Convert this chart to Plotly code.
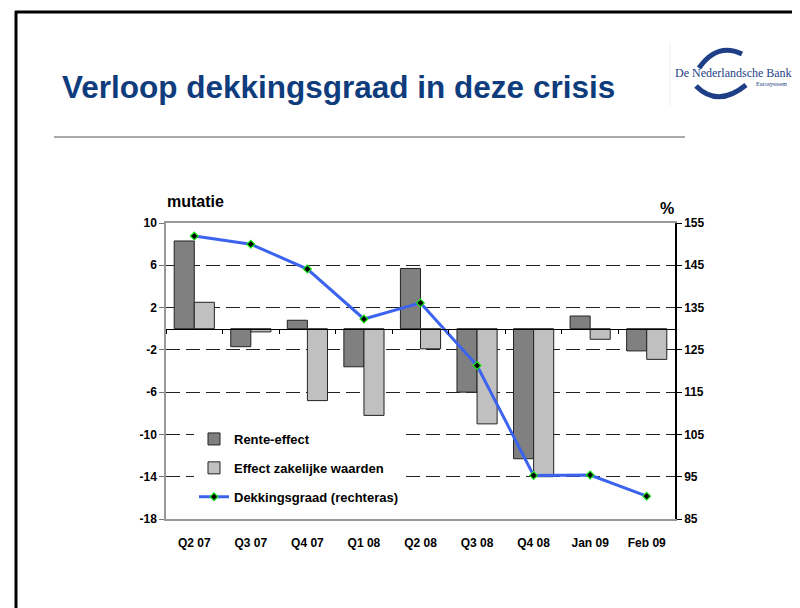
import plotly.graph_objects as go

categories = ["Q2 07", "Q3 07", "Q4 07", "Q1 08", "Q2 08", "Q3 08", "Q4 08", "Jan 09", "Feb 09"]
rente_effect = [8.3, -1.7, 0.8, -3.6, 5.7, -6.0, -12.3, 1.2, -2.1]
zakelijke_waarden = [2.5, -0.3, -6.8, -8.2, -1.9, -9.0, -14.0, -1.0, -2.9]
dekkingsgraad = [151.9, 150.0, 144.1, 132.3, 136.1, 121.3, 95.3, 95.4, 90.4]

left_ticks = [-18, -14, -10, -6, -2, 2, 6, 10]
right_ticks = [85, 95, 105, 115, 125, 135, 145, 155]
left_range = [left_ticks[0], left_ticks[-1]]
right_range = [right_ticks[0], right_ticks[-1]]

OFF = 8  # page body margin
W, H = 800 - OFF, 608 - OFF
PL, PR, PT, PB = 166, 675, 223, 519  # plot area in window pixels


def px(x):
    return (x - PL) / (PR - PL)


def py(y):
    return (PB - y) / (PB - PT)


FONT = "Liberation Sans, Arial, sans-serif"
NAVY = "#0F3C7C"
LOGO = "#1E3F86"

fig = go.Figure()
fig.add_trace(go.Bar(
    x=categories, y=rente_effect, name="Rente-effect",
    marker=dict(color="#808080", line=dict(color="#222222", width=1)),
    legendgroup="a",
))
fig.add_trace(go.Bar(
    x=categories, y=zakelijke_waarden, name="Effect zakelijke waarden",
    marker=dict(color="#C0C0C0", line=dict(color="#222222", width=1)),
    legendgroup="b",
))
fig.add_trace(go.Scatter(
    x=categories, y=dekkingsgraad, name="Dekkingsgraad (rechteras)",
    mode="lines+markers", xaxis="x2", yaxis="y2",
    line=dict(color="#3B63EE", width=3),
    marker=dict(symbol="diamond", size=6, color="#000000", line=dict(color="#19E619", width=1.2)),
    legendgroup="c",
))

fig.update_layout(
    width=W, height=H,
    margin=dict(l=PL - OFF, r=800 - PR, t=PT - OFF, b=608 - PB, pad=0),
    paper_bgcolor="white", plot_bgcolor="white",
    barmode="group", bargap=0.29, bargroupgap=0,
    font=dict(family=FONT, size=12, color="#000000"),
    showlegend=True,
    legend=dict(
        x=px(194), y=py(424), xanchor="left", yanchor="top",
        bgcolor="white", borderwidth=0,
        font=dict(family=FONT, size=13, weight="bold"),
        traceorder="grouped", tracegroupgap=9,
    ),
    xaxis=dict(
        type="category", range=[-0.5, len(categories) - 0.5],
        showline=True, linecolor="#999999", linewidth=1.5, mirror=True,
        ticks="", showgrid=False, zeroline=False,
        tickfont=dict(family=FONT, size=12, weight="bold"),
        ticklabelstandoff=12,
    ),
    xaxis2=dict(
        type="category", overlaying="x", anchor="free",
        position=(0 - left_range[0]) / (left_range[1] - left_range[0]),
        range=[-0.5, len(categories) - 0.5],
        showline=True, linecolor="#000000", linewidth=1,
        ticks="outside", tickson="boundaries", ticklen=4, tickcolor="#000000",
        showticklabels=False, showgrid=False, zeroline=False,
    ),
    yaxis=dict(
        range=left_range, tickmode="array", tickvals=left_ticks,
        ticktext=[str(v) for v in left_ticks],
        showline=True, linecolor="#999999", linewidth=1.5,
        ticks="outside", ticklen=5, tickcolor="#777777",
        showgrid=True, gridcolor="#222222", gridwidth=1, griddash="14px,6px",
        zeroline=False,
        tickfont=dict(family=FONT, size=12, weight="bold"),
    ),
    yaxis2=dict(
        range=right_range, tickmode="array", tickvals=right_ticks,
        ticktext=[str(v) for v in right_ticks],
        overlaying="y", side="right", anchor="x",
        showline=True, linecolor="#000000", linewidth=1.5,
        ticks="outside", ticklen=5, tickcolor="#000000",
        showgrid=False, zeroline=False,
        tickfont=dict(family=FONT, size=12, weight="bold"),
    ),
)

annotations = [
    dict(text="Verloop dekkingsgraad in deze crisis", x=px(60), y=py(87),
         xanchor="left", yanchor="middle",
         font=dict(family=FONT, size=31.5, weight="bold", color=NAVY)),
    dict(text="mutatie", x=px(165), y=py(202), xanchor="left", yanchor="middle",
         font=dict(family=FONT, size=16, weight="bold")),
    dict(text="%", x=px(667), y=py(208), xanchor="center", yanchor="middle",
         font=dict(family=FONT, size=16, weight="bold")),
    dict(text="De Nederlandsche Bank", x=px(733), y=py(73), xanchor="center", yanchor="middle",
         font=dict(family="Liberation Serif, DejaVu Serif, serif", size=12, color=LOGO)),
    dict(text="Eurosysteem", x=px(789), y=py(84), xanchor="right", yanchor="middle",
         font=dict(family="Liberation Serif, DejaVu Serif, serif", size=6, color=LOGO)),
]
for a in annotations:
    a.update(xref="paper", yref="paper", showarrow=False)
fig.update_layout(annotations=annotations)


def pth(points):
    (x0, y0), (cx, cy), (x1, y1) = points
    return f"M {px(x0)},{py(y0)} Q {px(cx)},{py(cy)} {px(x1)},{py(y1)}"


shapes = [
    # slide frame
    dict(type="line", x0=px(16), x1=px(16), y0=py(11), y1=py(612),
         line=dict(color="black", width=3)),
    dict(type="line", x0=px(15), x1=px(805), y0=py(12), y1=py(12),
         line=dict(color="black", width=3)),
    # rule under title
    dict(type="line", x0=px(54), x1=px(685), y0=py(137), y1=py(137),
         line=dict(color="#8C8C8C", width=1.5)),
    # faint logo box edge
    dict(type="line", x0=px(670), x1=px(670), y0=py(42), y1=py(106),
         line=dict(color="#EEEEEE", width=1)),
    # logo swooshes
    dict(type="path", path=pth([(699, 68), (717, 42), (742, 54)]),
         line=dict(color=LOGO, width=5)),
    dict(type="path", path=pth([(696, 86), (718, 108), (746, 85)]),
         line=dict(color=LOGO, width=5)),
]
for s in shapes:
    s.update(xref="paper", yref="paper", layer="above")
fig.update_layout(shapes=shapes)

fig.write_html("out.html")
